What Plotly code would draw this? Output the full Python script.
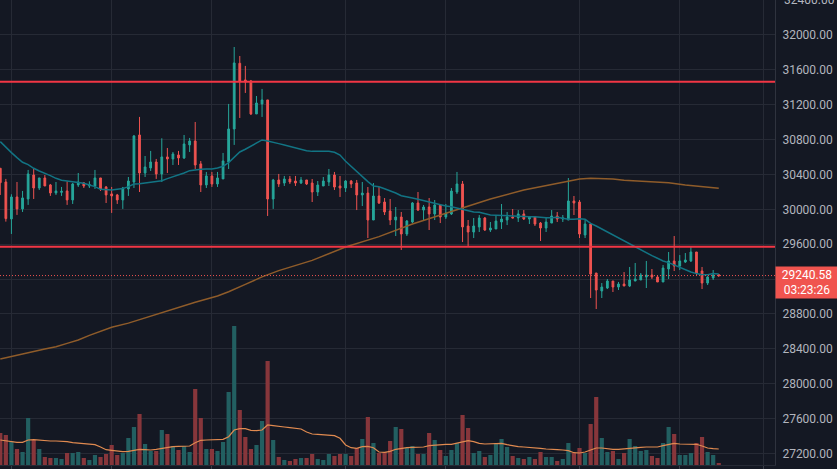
import plotly.graph_objs as go

# Candles, one value per bar
opens = [30471, 30314, 29890, 30142, 30005, 30119, 30394, 30245, 30360, 30280,
         30188, 30195, 30211, 30108, 30280, 30303, 30268, 30268, 30360, 30257,
         30177, 30165, 30108, 30234, 30314, 30853, 30417, 30475, 30543, 30406,
         30601, 30578, 30624, 30589, 30739, 30784, 30521, 30280, 30383, 30291,
         30349, 30543, 30922, 31675, 31484, 31473, 31094, 31209, 31255, 30119,
         30337, 30302, 30348, 30325, 30302, 30337, 30302, 30199, 30268, 30314,
         30394, 30268, 30245, 30325, 30302, 30165, 30187, 29878, 30153, 30084,
         29981, 29878, 29912, 29717, 29855, 30073, 29992, 30027, 29947, 30050,
         29912, 29947, 30199, 30291, 29809, 29740, 29798, 29901, 29763, 29775,
         29855, 29878, 29912, 29901, 29947, 29889, 29912, 29843, 29786, 29843,
         29924, 29889, 29878, 30096, 30084, 29706, 29832, 29270, 29064, 29098,
         29178, 29109, 29144, 29121, 29178, 29190, 29224, 29247, 29224, 29167,
         29316, 29408, 29350, 29396, 29408, 29511, 29293, 29155, 29213, 29250]
highs = [30471, 30349, 30173, 30314, 30211, 30452, 30463, 30360, 30394, 30291,
         30314, 30257, 30322, 30303, 30417, 30314, 30322, 30452, 30360, 30268,
         30257, 30177, 30257, 30371, 30853, 31060, 30612, 30670, 30578, 30815,
         30704, 30658, 30670, 30853, 30819, 31002, 30555, 30429, 30429, 30429,
         30647, 31209, 31862, 31759, 31645, 31484, 31300, 31381, 31255, 30349,
         30406, 30383, 30383, 30383, 30371, 30337, 30348, 30325, 30371, 30463,
         30429, 30383, 30337, 30337, 30337, 30314, 30256, 30302, 30256, 30130,
         30119, 30027, 29970, 29878, 30084, 30199, 30050, 30130, 30107, 30061,
         30061, 30245, 30429, 30325, 29878, 29901, 29935, 29912, 29855, 29924,
         30061, 29970, 30004, 29992, 29992, 29924, 29924, 29855, 29901, 29992,
         29970, 29935, 30359, 30153, 30107, 29878, 29832, 29270, 29155, 29201,
         29178, 29167, 29281, 29339, 29385, 29270, 29408, 29316, 29247, 29362,
         29511, 29694, 29476, 29499, 29580, 29511, 29339, 29236, 29304, 29258]
lows = [30165, 29859, 29718, 29936, 29970, 30051, 30119, 30222, 30268, 30154,
        30165, 30154, 30051, 30062, 30257, 30245, 30245, 30234, 30211, 30073,
        29959, 30062, 30005, 30154, 30245, 30199, 30371, 30440, 30349, 30314,
        30417, 30509, 30509, 30578, 30658, 30463, 30199, 30245, 30257, 30257,
        30349, 30463, 30739, 31048, 31335, 31082, 31094, 31060, 29924, 30005,
        30257, 30268, 30291, 30268, 30291, 30279, 30084, 30153, 30268, 30268,
        30222, 30142, 30199, 30245, 29992, 30038, 29671, 29878, 30061, 29935,
        29820, 29694, 29534, 29694, 29843, 29981, 29878, 29763, 29878, 29843,
        29889, 29935, 30176, 29625, 29568, 29671, 29740, 29752, 29740, 29775,
        29775, 29820, 29901, 29855, 29878, 29832, 29809, 29637, 29740, 29843,
        29855, 29855, 29878, 29935, 29671, 29671, 28983, 28857, 28983, 29086,
        29052, 29075, 29121, 29109, 29178, 29190, 29098, 29201, 29167, 29167,
        29201, 29293, 29304, 29385, 29396, 29236, 29086, 29132, 29190, 29224]
closes = [30306, 29894, 30142, 30005, 30131, 30406, 30245, 30360, 30268, 30188,
          30211, 30207, 30108, 30291, 30314, 30268, 30284, 30360, 30234, 30165,
          30154, 30108, 30245, 30325, 30842, 30417, 30486, 30543, 30406, 30601,
          30578, 30635, 30589, 30750, 30784, 30509, 30280, 30383, 30291, 30360,
          30555, 30922, 31679, 31465, 31461, 31094, 31220, 31255, 30119, 30337,
          30291, 30348, 30314, 30302, 30337, 30291, 30199, 30279, 30325, 30394,
          30256, 30245, 30325, 30291, 30165, 30187, 29878, 30153, 30073, 29970,
          29878, 29912, 29717, 29866, 30073, 29992, 30027, 29947, 30050, 29912,
          29958, 30210, 30291, 29798, 29740, 29809, 29901, 29763, 29786, 29866,
          29889, 29912, 29901, 29947, 29889, 29912, 29832, 29786, 29855, 29924,
          29889, 29901, 30096, 30073, 29717, 29832, 29258, 29075, 29109, 29178,
          29109, 29144, 29121, 29190, 29201, 29247, 29247, 29224, 29167, 29327,
          29408, 29350, 29408, 29419, 29511, 29270, 29155, 29224, 29247, 29240.58]

volumes = [320, 300, 240, 160, 130, 470, 250, 160, 80, 70,
           70, 60, 120, 120, 130, 70, 50, 100, 80, 110,
           200, 100, 120, 270, 380, 510, 210, 140, 140, 350,
           310, 190, 150, 190, 130, 760, 470, 160, 160, 140,
           230, 730, 1390, 550, 280, 160, 200, 440, 1040, 250,
           80, 50, 40, 60, 70, 70, 110, 60, 50, 110,
           90, 110, 110, 90, 170, 260, 480, 220, 120, 130,
           240, 380, 360, 170, 190, 110, 110, 320, 250, 150,
           90, 150, 220, 500, 370, 120, 140, 80, 100, 220,
           260, 180, 90, 70, 60, 80, 60, 130, 80, 80,
           40, 60, 220, 120, 170, 120, 410, 680, 270, 130,
           140, 60, 120, 260, 190, 140, 150, 90, 70, 220,
           380, 310, 100, 100, 120, 220, 280, 130, 100, 20]

volume_ma = [250, 243, 230, 227, 227, 250, 253, 247, 240, 240,
             240, 240, 233, 223, 217, 213, 210, 203, 180, 153,
             147, 137, 133, 137, 150, 157, 153, 150, 157, 167,
             177, 183, 187, 187, 190, 223, 247, 250, 253, 257,
             257, 283, 350, 363, 363, 347, 343, 350, 400, 393,
             383, 380, 373, 367, 360, 330, 310, 307, 300, 297,
             293, 267, 200, 173, 167, 183, 187, 173, 130, 127,
             137, 157, 167, 173, 177, 180, 180, 193, 200, 207,
             207, 207, 217, 233, 243, 233, 217, 210, 210, 213,
             217, 203, 190, 183, 180, 177, 177, 167, 160, 153,
             153, 150, 143, 123, 120, 130, 150, 170, 170, 163,
             157, 157, 163, 170, 173, 177, 180, 180, 180, 193,
             207, 217, 210, 210, 210, 207, 190, 170, 163, 160]

# Short moving average (teal)
short_ma = [30777, 30708, 30651, 30593, 30540, 30513, 30471, 30440, 30417, 30387,
            30356, 30333, 30325, 30318, 30314, 30299, 30280, 30261, 30230, 30222,
            30222, 30230, 30238, 30261, 30291, 30295, 30303, 30310, 30314, 30329,
            30352, 30371, 30394, 30417, 30444, 30455, 30459, 30463, 30463, 30475,
            30494, 30536, 30593, 30658, 30689, 30723, 30761, 30796, 30784, 30765,
            30754, 30738, 30723, 30704, 30685, 30673, 30665, 30665, 30665, 30665,
            30654, 30623, 30551, 30490, 30429, 30379, 30318, 30268, 30260, 30237,
            30214, 30188, 30157, 30146, 30131, 30115, 30100, 30085, 30069, 30050,
            30039, 30031, 30016, 30001, 29981, 29970, 29966, 29947, 29935, 29932,
            29928, 29924, 29924, 29920, 29916, 29916, 29916, 29909, 29905, 29905,
            29909, 29897, 29886, 29886, 29893, 29886, 29840, 29809, 29775, 29740,
            29706, 29672, 29637, 29599, 29565, 29534, 29500, 29469, 29439, 29408,
            29389, 29362, 29335, 29301, 29282, 29263, 29251, 29251, 29263, 29259]

# Long moving average (brown), read at the bars where it bends
long_ma_bars = [0, 2, 5, 8, 10, 12, 14, 16, 18, 20, 23, 29, 35, 39, 41, 44, 47, 50,
                56, 62, 68, 74, 80, 83, 88, 94, 100, 102, 104, 106, 108, 110, 112,
                116, 120, 123, 126, 129]
long_ma = [28284, 28310, 28356, 28398, 28425, 28463, 28502, 28555, 28605, 28647,
           28695, 28815, 28935, 29006, 29055, 29140, 29225, 29297,
           29415, 29568, 29687, 29832, 29955, 30008, 30119, 30222, 30299, 30329,
           30348, 30356, 30356, 30348, 30333, 30318, 30306, 30280, 30257, 30241]

# Support / resistance levels and last price
levels = [31464, 29572]
last_price = 29240.58
countdown = "03:23:26"

price_ticks = [27200, 27600, 28000, 28400, 28800, 29200, 29600, 30000,
               30400, 30800, 31200, 31600, 32000, 32400]
top_tick = price_ticks[-1]
# the top label sits half off the page, plotly would hide it so it is an annotation below
price_labels = ["%.2f" % p if p != top_tick else "" for p in price_ticks]
time_grid_bars = [2, 20, 38, 62, 80, 104, 122, 137]

bars = list(range(len(closes)))
vol_colors = ["#225f61" if c >= o else "#87363b" for o, c in zip(opens, closes)]

bg = "#141823"
grid = "#262a35"
tick_font = dict(color="#b2b5be", size=12, family="Roboto")

fig = go.Figure()

fig.add_trace(go.Bar(x=bars, y=volumes, marker_color=vol_colors, marker_line_width=0, yaxis="y2"))
fig.add_trace(go.Scatter(x=bars, y=volume_ma, mode="lines", yaxis="y2",
                         line=dict(color="#e08a50", width=1.2)))

fig.add_trace(go.Scatter(x=long_ma_bars, y=long_ma, mode="lines",
                         line=dict(color="#8f5c2a", width=1.5)))
fig.add_trace(go.Scatter(x=bars, y=short_ma, mode="lines",
                         line=dict(color="#127484", width=1.5)))

fig.add_trace(go.Candlestick(
    x=bars, open=opens, high=highs, low=lows, close=closes,
    increasing=dict(line=dict(color="#26a69a", width=1), fillcolor="#26a69a"),
    decreasing=dict(line=dict(color="#ef5350", width=1), fillcolor="#ef5350"),
))

for level in levels:
    fig.add_hline(y=level, line=dict(color="#f23645", width=2))
fig.add_hline(y=last_price, line=dict(color="#ef5350", width=1, dash="1px,2px"))

fig.add_annotation(
    xref="paper", x=1, xanchor="left", xshift=7, yref="y", y=top_tick, yanchor="middle",
    text="%.2f" % top_tick, showarrow=False, font=tick_font,
)

# Last price tag on the axis
fig.add_annotation(
    xref="paper", x=1, xanchor="left", yref="y", y=last_price, yanchor="middle", yshift=-7,
    text="%.2f<br>%s" % (last_price, countdown),
    showarrow=False, align="center", width=58, height=27, borderpad=2,
    bgcolor="#f0544f", font=dict(color="#ffffff", size=12, family="Roboto"),
)

fig.update_layout(
    width=837, height=469,
    margin=dict(l=0, r=62, t=0, b=4),
    paper_bgcolor=bg, plot_bgcolor=bg,
    showlegend=False, bargap=0.25, boxgap=0.55, hovermode=False,
    xaxis=dict(range=[-0.05, 139.1], rangeslider_visible=False, tickvals=time_grid_bars,
               showticklabels=False, showgrid=True, gridcolor=grid, gridwidth=1, zeroline=False,
               showline=True, linecolor=grid, ticks="outside", ticklen=3, tickcolor="#3a3e49"),
    yaxis=dict(range=[27068, 32401], side="right", tickvals=price_ticks, ticktext=price_labels,
               showgrid=True, gridcolor=grid, gridwidth=1, zeroline=False, showline=True, linecolor="#2f333e",
               ticks="", ticklabelstandoff=4, tickfont=tick_font),
    yaxis2=dict(range=[0, 4650], overlaying="y", side="left", visible=False),
)

# page margin off so the chart fills the window
fig.write_html("out.html", config={"displayModeBar": False},
               post_script="document.body.style.margin='0';")
